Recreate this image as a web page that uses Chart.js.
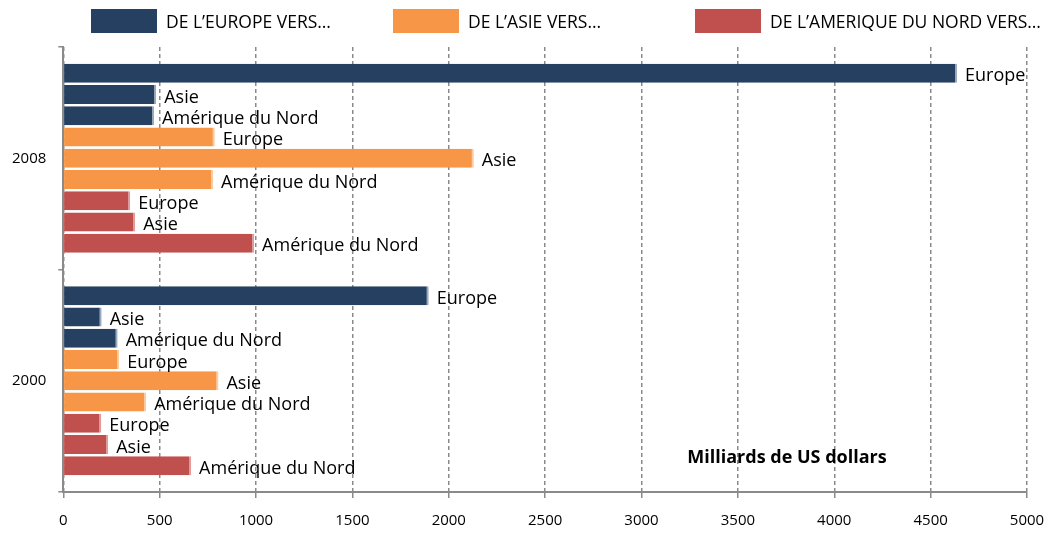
<!DOCTYPE html>
<html>
<head>
<meta charset="utf-8">
<script src="https://cdn.jsdelivr.net/npm/chart.js@4.4.1/dist/chart.umd.min.js"></script>
<style>
    html, body { margin: 0; padding: 0; background: #fff; }
    #wrap { width: 1048px; height: 533px; position: relative; }
    #legend { position: absolute; top: 9px; left: 91px; display: flex; font-family: "Open Sans", "Noto Sans", sans-serif; font-size: 17.5px; color: #000; }
    #legend .item { display: flex; align-items: center; width: 302px; }
    #legend .item:last-child { width: auto; }
    #legend .swatch { width: 66px; height: 24px; margin-right: 9px; flex: none; }
</style>
</head>
<body>
<div id="wrap">
    <canvas id="flows"></canvas>
    <div id="legend"></div>
</div>
<script>
// Categories and series (billions of US dollars)
const years = ['2008', '2000'];
const destinations = ['Europe', 'Asie', 'Amérique du Nord'];
const origins = ['DE L\u2019EUROPE VERS\u2026', 'DE L\u2019ASIE VERS\u2026', 'DE L\u2019AMERIQUE DU NORD VERS\u2026'];

// values per destination [Europe, Asie, Amérique du Nord]
const fromEurope2008 = [4637, 482, 471];
const fromEurope2000 = [1896, 199, 282];
const fromAsia2008 = [786, 2130, 777];
const fromAsia2000 = [290, 805, 430];
const fromNorthAmerica2008 = [347, 373, 990];
const fromNorthAmerica2000 = [197, 233, 663];

const originColors = ['#254061', '#F79646', '#C0504D'];
const edgeColors = ['#9AAAC0', '#FBCBA2', '#DE9C9A'];
const xTicks = [0, 500, 1000, 1500, 2000, 2500, 3000, 3500, 4000, 4500, 5000];

const FONT = '"Open Sans", "Noto Sans", sans-serif';

document.addEventListener('DOMContentLoaded', function () {
    // legend: one entry per origin
    const legendEl = document.getElementById('legend');
    origins.forEach((name, o) => {
        const item = document.createElement('div');
        item.className = 'item';
        const sw = document.createElement('span');
        sw.className = 'swatch';
        sw.style.backgroundColor = originColors[o];
        const txt = document.createElement('span');
        txt.textContent = name;
        item.appendChild(sw);
        item.appendChild(txt);
        legendEl.appendChild(item);
    });

    const series = [
        [fromEurope2008, fromEurope2000],
        [fromAsia2008, fromAsia2000],
        [fromNorthAmerica2008, fromNorthAmerica2000]
    ];

    const datasets = [];
    series.forEach((s, o) => {
        destinations.forEach((dest, d) => {
            datasets.push({
                label: dest,
                data: [s[0][d], s[1][d]],
                backgroundColor: originColors[o],
                borderColor: edgeColors[o],
                borderWidth: { top: 0, bottom: 0, left: 0, right: 2 },
                borderSkipped: false,
                categoryPercentage: 0.86,
                barPercentage: 0.9
            });
        });
    });

    // destination name written at the end of every bar
    const barLabels = {
        id: 'barLabels',
        afterDatasetsDraw(chart) {
            const ctx = chart.ctx;
            ctx.save();
            ctx.font = '18px ' + FONT;
            ctx.fillStyle = '#000';
            ctx.textBaseline = 'middle';
            ctx.textAlign = 'left';
            chart.data.datasets.forEach((ds, i) => {
                const meta = chart.getDatasetMeta(i);
                if (meta.hidden) return;
                meta.data.forEach(bar => {
                    ctx.fillText(ds.label, bar.x + 8, bar.y + 3);
                });
            });
            ctx.restore();
        }
    };

    const unitNote = {
        id: 'unitNote',
        afterDraw(chart) {
            const { ctx, chartArea } = chart;
            ctx.save();
            ctx.font = 'bold 18px ' + FONT;
            ctx.fillStyle = '#000';
            ctx.textAlign = 'center';
            ctx.textBaseline = 'middle';
            ctx.fillText('Milliards de US dollars', chartArea.right - 240, chartArea.bottom - 34);
            ctx.restore();
        }
    };

    new Chart(document.getElementById('flows'), {
        type: 'bar',
        data: { labels: years, datasets },
        options: {
            indexAxis: 'y',
            responsive: true,
            maintainAspectRatio: false,
            animation: false,
            layout: { padding: { left: 0, right: 21, top: 47, bottom: -11 } },
            plugins: {
                legend: { display: false },
                tooltip: { enabled: false }
            },
            scales: {
                x: {
                    min: 0,
                    max: 5000,
                    afterBuildTicks: axis => { axis.ticks = xTicks.map(v => ({ value: v })); },
                    afterFit: axis => { axis.paddingRight = 0; axis.paddingLeft = 0; },
                    grid: {
                        color: '#8A8A8A',
                        lineWidth: 1.5,
                        tickLength: 6,
                        tickColor: '#8A8A8A',
                        tickBorderDash: []
                    },
                    border: { color: '#8A8A8A', width: 2, dash: [4, 3] },
                    ticks: {
                        color: '#000',
                        font: { family: FONT, size: 15 },
                        padding: 14,
                        maxRotation: 0,
                        callback: v => String(v)
                    }
                },
                y: {
                    grid: {
                        offset: true,
                        drawOnChartArea: false,
                        tickLength: 5,
                        tickColor: '#8A8A8A',
                        lineWidth: 1.5
                    },
                    border: { color: '#8A8A8A', width: 2 },
                    ticks: {
                        color: '#000',
                        font: { family: FONT, size: 15 },
                        padding: 12
                    }
                }
            }
        },
        plugins: [barLabels, unitNote]
    });
});
</script>
</body>
</html>
